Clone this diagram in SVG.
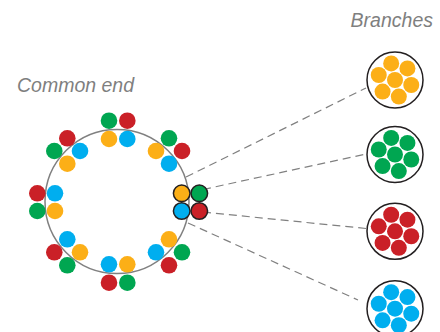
<svg xmlns="http://www.w3.org/2000/svg" xmlns:xlink="http://www.w3.org/1999/xlink" width="440" height="332" viewBox="0 0 440 332">
<style>
.o{fill:#FCAF17}.g{fill:#00A651}.r{fill:#CA2027}.b{fill:#00AEEF}
.lbl{font-family:"Liberation Sans",Arial,sans-serif;font-style:italic;font-size:19.5px;fill:#7F7F7F}
.conn{stroke:#808080;stroke-width:1.2;stroke-dasharray:8,5;fill:none}
.hl circle{stroke:#231F20;stroke-width:1.5}
.sheath{fill:#fff;stroke:#231F20;stroke-width:1.5}
</style>
<defs>
<g id="bundle">
<circle cx="0" cy="0" r="8"/>
<circle cx="16.26" cy="4.97" r="8"/>
<circle cx="3.82" cy="16.56" r="8"/>
<circle cx="-12.43" cy="11.59" r="8"/>
<circle cx="-16.26" cy="-4.97" r="8"/>
<circle cx="-3.82" cy="-16.56" r="8"/>
<circle cx="12.43" cy="-11.59" r="8"/>
</g>
</defs>
<rect width="440" height="332" fill="#fff"/>
<text class="lbl" x="17" y="92">Common end</text>
<text class="lbl" x="433" y="27" text-anchor="end">Branches</text>
<g id="connectors">
<line class="conn" x1="186" y1="177" x2="366" y2="88"/>
<line class="conn" x1="203" y1="189.5" x2="366" y2="154"/>
<line class="conn" x1="203" y1="212" x2="366" y2="228.5"/>
<line class="conn" x1="188" y1="223" x2="358" y2="300"/>
</g>
<g id="common-end">
<circle cx="117" cy="201.5" r="72" fill="none" stroke="#808080" stroke-width="1.5"/>
<!-- top -->
<circle class="g" cx="109" cy="120.7" r="8.3"/><circle class="r" cx="127.3" cy="120.7" r="8.3"/>
<circle class="o" cx="109" cy="139" r="8.3"/><circle class="b" cx="127.3" cy="139" r="8.3"/>
<!-- bottom -->
<circle class="b" cx="109" cy="264.3" r="8.3"/><circle class="o" cx="127.3" cy="264.3" r="8.3"/>
<circle class="r" cx="109" cy="282.7" r="8.3"/><circle class="g" cx="127.3" cy="282.7" r="8.3"/>
<!-- left -->
<circle class="r" cx="37.3" cy="193.3" r="8.3"/><circle class="b" cx="55" cy="193.3" r="8.3"/>
<circle class="g" cx="37.3" cy="211" r="8.3"/><circle class="o" cx="55" cy="211" r="8.3"/>
<!-- top-left -->
<circle class="r" cx="67.3" cy="138.3" r="8.3"/><circle class="g" cx="54.3" cy="151" r="8.3"/>
<circle class="b" cx="80" cy="151" r="8.3"/><circle class="o" cx="67.3" cy="163.7" r="8.3"/>
<!-- top-right -->
<circle class="g" cx="169" cy="138.3" r="8.3"/><circle class="o" cx="156" cy="151" r="8.3"/>
<circle class="r" cx="182" cy="151" r="8.3"/><circle class="b" cx="169" cy="163.7" r="8.3"/>
<!-- bottom-left -->
<circle class="b" cx="67.3" cy="239.3" r="8.3"/><circle class="r" cx="54.3" cy="252.3" r="8.3"/>
<circle class="o" cx="80" cy="252.3" r="8.3"/><circle class="g" cx="67.3" cy="265.3" r="8.3"/>
<!-- bottom-right -->
<circle class="o" cx="169" cy="239.3" r="8.3"/><circle class="b" cx="156" cy="252.3" r="8.3"/>
<circle class="g" cx="182" cy="252.3" r="8.3"/><circle class="r" cx="169" cy="265.3" r="8.3"/>
<!-- right (highlighted) -->
<g class="hl">
<circle class="o" cx="181.7" cy="193.3" r="8.3"/><circle class="g" cx="199.3" cy="193.3" r="8.3"/>
<circle class="b" cx="181.7" cy="211" r="8.3"/><circle class="r" cx="199.3" cy="211" r="8.3"/>
</g>
</g>
<g id="branch-orange">
<circle class="sheath" cx="395" cy="80" r="28"/>
<use xlink:href="#bundle" href="#bundle" x="395" y="80" class="o"/>
</g>
<g id="branch-green">
<circle class="sheath" cx="395" cy="154.5" r="28"/>
<use xlink:href="#bundle" href="#bundle" x="395" y="154.5" class="g"/>
</g>
<g id="branch-red">
<circle class="sheath" cx="395" cy="231.3" r="28"/>
<use xlink:href="#bundle" href="#bundle" x="395" y="231.3" class="r"/>
</g>
<g id="branch-blue">
<circle class="sheath" cx="395" cy="308.7" r="28"/>
<use xlink:href="#bundle" href="#bundle" x="395" y="308.7" class="b"/>
</g>
</svg>
